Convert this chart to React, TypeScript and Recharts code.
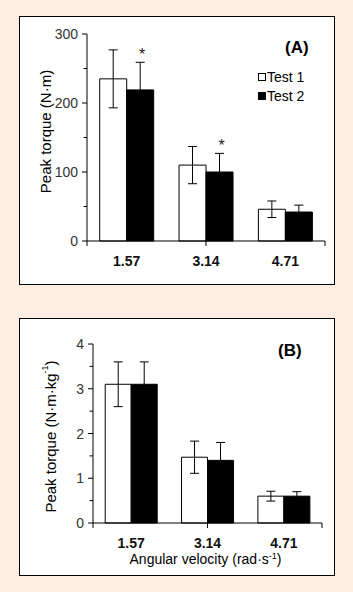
import React from 'react';
import { BarChart, Bar, XAxis, YAxis, ErrorBar, Legend, LabelList, Label } from 'recharts';

const categories = ['1.57', '3.14', '4.71'];
const torqueTest1 = [235, 110, 46];
const torqueTest1Err = [42, 27, 12];
const torqueTest2 = [219, 100, 42];
const torqueTest2Err = [40, 27, 10];
const significance = ['*', '*', ''];
const torqueTicks = [0, 50, 100, 150, 200, 250, 300];

const relTest1 = [3.1, 1.47, 0.6];
const relTest1Err = [0.5, 0.36, 0.11];
const relTest2 = [3.1, 1.4, 0.6];
const relTest2Err = [0.5, 0.4, 0.1];
const relTicks = [0, 0.5, 1, 1.5, 2, 2.5, 3, 3.5, 4];

const seriesNames = ['Test 1', 'Test 2'];
const boundaryTicks = [0, 1, 2, 3];

const FONT = '"Liberation Sans", Arial, sans-serif';
const BG = '#fdede2';

const dataA = categories.map((c, i) => ({
  cat: c,
  t1: torqueTest1[i],
  t1e: torqueTest1Err[i],
  t2: torqueTest2[i],
  t2e: torqueTest2Err[i],
  sig: significance[i],
}));

const dataB = categories.map((c, i) => ({
  cat: c,
  t1: relTest1[i],
  t1e: relTest1Err[i],
  t2: relTest2[i],
  t2e: relTest2Err[i],
}));

const makeYTick = (major: (v: number) => boolean) => (props: any) => {
  const { x, y, payload } = props;
  const v = payload.value;
  const isMajor = major(v);
  const axisX = x + 9;
  const len = isMajor ? 5 : 3.5;
  return (
    <g>
      <line x1={axisX - len} x2={axisX} y1={y} y2={y} stroke="#000" strokeWidth={1} />
      {isMajor && (
        <text x={x} y={y} dy="0.36em" textAnchor="end" fontSize={14} fontFamily={FONT} fill="#333">
          {v}
        </text>
      )}
    </g>
  );
};

const StarLabel = (data: any[]) => (props: any) => {
  const { x, y, width, height, index, value } = props;
  if (!value) return null;
  const d = data[index];
  const errPx = (d.t2e * height) / d.t2;
  return (
    <text x={x + width / 2 + 2} y={y - errPx - 2} textAnchor="middle" fontSize={16} fontFamily={FONT} fill="#222">
      {value}
    </text>
  );
};

const LegendContent = (props: any) => {
  const { payload } = props;
  return (
    <div style={{ fontFamily: FONT, fontSize: 14, color: '#000' }}>
      {(payload || []).map((p: any, i: number) => (
        <div key={i} style={{ display: 'flex', alignItems: 'center', height: 19 }}>
          <span
            style={{
              display: 'inline-block',
              width: 8,
              height: 8,
              boxSizing: 'border-box',
              border: '1px solid #000',
              background: p.color,
              marginRight: 1,
            }}
          />
          <span>{p.value}</span>
        </div>
      ))}
    </div>
  );
};

const YLabel = (text: React.ReactNode, dx: number, dyc: number) => (props: any) => {
  const { viewBox } = props;
  const cx = viewBox.x + dx;
  const cy = viewBox.y + viewBox.height / 2 + dyc;
  return (
    <text
      x={cx}
      y={cy}
      transform={`rotate(-90, ${cx}, ${cy})`}
      textAnchor="middle"
      dominantBaseline="central"
      fontSize={15}
      fontFamily={FONT}
      fill="#000"
    >
      {text}
    </text>
  );
};

const XLabel = (props: any) => {
  const { viewBox } = props;
  const cx = viewBox.x + viewBox.width / 2 - 2;
  const y = viewBox.y + 40;
  return (
    <text x={cx} y={y} textAnchor="middle" fontSize={14} fontFamily={FONT} fill="#000">
      Angular velocity (rad·s
      <tspan dy={-5} fontSize={9}>-1</tspan>
      <tspan dy={5}>)</tspan>
    </text>
  );
};

const catTick = { fontSize: 14, fontWeight: 700, fontFamily: FONT, fill: '#111' };

export default function App() {
  return (
    <div style={{ position: 'absolute', left: 0, top: 0, width: 353, height: 592, background: BG, overflow: 'hidden' }}>
      <div
        style={{
          position: 'absolute',
          left: 19,
          top: 16,
          width: 316,
          height: 269,
          boxSizing: 'border-box',
          border: '1px solid #000',
          background: '#fff',
        }}
      />
      <div
        style={{
          position: 'absolute',
          left: 19,
          top: 318,
          width: 316,
          height: 258,
          boxSizing: 'border-box',
          border: '1px solid #000',
          background: '#fff',
        }}
      />

      <div style={{ position: 'absolute', left: 0, top: 0, width: 353, height: 300 }}>
        <BarChart
          width={353}
          height={300}
          data={dataA}
          margin={{ top: 34, right: 28, bottom: 28, left: 27 }}
          barGap={0}
          barCategoryGap="16%"
        >
          <XAxis
            xAxisId={1}
            dataKey="cat"
            height={30}
            axisLine={false}
            tickLine={false}
            tickSize={6}
            tickMargin={8}
            tick={catTick}
          />
          <XAxis
            xAxisId={0}
            type="number"
            domain={[0, 3]}
            ticks={boundaryTicks}
            allowDataOverflow
            height={1}
            tickSize={5}
            tickFormatter={() => ''}
            stroke="#000"
            tickLine={{ stroke: '#000' }}
          />
          <YAxis
            width={60}
            domain={[0, 300]}
            ticks={torqueTicks}
            interval={0}
            tickSize={5}
            tickMargin={4}
            tickLine={false}
            axisLine={{ stroke: '#000' }}
            tick={makeYTick((v) => v % 100 === 0)}
          >
            <Label content={YLabel('Peak torque (N·m)', 18, -6)} />
          </YAxis>
          <Legend
            layout="horizontal"
            verticalAlign="middle"
            align="center"
            wrapperStyle={{ left: 258, top: 67, width: 80, height: 40 }}
            content={LegendContent}
          />
          <Bar xAxisId={1} dataKey="t1" name={seriesNames[0]} fill="#ffffff" stroke="#000" strokeWidth={1} isAnimationActive={false}>
            <ErrorBar dataKey="t1e" width={4.5} stroke="#000" strokeWidth={1} isAnimationActive={false} />
          </Bar>
          <Bar xAxisId={1} dataKey="t2" name={seriesNames[1]} fill="#000000" stroke="#000" strokeWidth={1} isAnimationActive={false}>
            <ErrorBar dataKey="t2e" width={4.5} stroke="#000" strokeWidth={1} isAnimationActive={false} />
            <LabelList dataKey="sig" content={StarLabel(dataA)} />
          </Bar>
        </BarChart>
      </div>

      <div style={{ position: 'absolute', left: 0, top: 300, width: 353, height: 292 }}>
        <BarChart
          width={353}
          height={292}
          data={dataB}
          margin={{ top: 44, right: 31, bottom: 38, left: 33 }}
          barGap={0}
          barCategoryGap="16%"
        >
          <XAxis
            xAxisId={1}
            dataKey="cat"
            height={30}
            axisLine={false}
            tickLine={false}
            tickSize={6}
            tickMargin={8}
            tick={catTick}
          >
            <Label content={XLabel} />
          </XAxis>
          <XAxis
            xAxisId={0}
            type="number"
            domain={[0, 3]}
            ticks={boundaryTicks}
            allowDataOverflow
            height={1}
            tickSize={5}
            tickFormatter={() => ''}
            stroke="#000"
            tickLine={{ stroke: '#000' }}
          />
          <YAxis
            width={60}
            domain={[0, 4]}
            ticks={relTicks}
            interval={0}
            tickSize={5}
            tickMargin={4}
            tickLine={false}
            axisLine={{ stroke: '#000' }}
            tick={makeYTick((v) => Number.isInteger(v))}
          >
            <Label
              content={YLabel(
                <>
                  Peak torque (N·m·kg
                  <tspan dy={-5} fontSize={9}>-1</tspan>
                  <tspan dy={5}>)</tspan>
                </>,
                17,
                3
              )}
            />
          </YAxis>
          <Bar xAxisId={1} dataKey="t1" name={seriesNames[0]} fill="#ffffff" stroke="#000" strokeWidth={1} isAnimationActive={false}>
            <ErrorBar dataKey="t1e" width={4.5} stroke="#000" strokeWidth={1} isAnimationActive={false} />
          </Bar>
          <Bar xAxisId={1} dataKey="t2" name={seriesNames[1]} fill="#000000" stroke="#000" strokeWidth={1} isAnimationActive={false}>
            <ErrorBar dataKey="t2e" width={4.5} stroke="#000" strokeWidth={1} isAnimationActive={false} />
          </Bar>
        </BarChart>
      </div>

      <div
        style={{
          position: 'absolute',
          left: 285,
          top: 38,
          fontFamily: FONT,
          fontSize: 17,
          fontWeight: 700,
          color: '#000',
          lineHeight: '20px',
        }}
      >
        (A)
      </div>
      <div
        style={{
          position: 'absolute',
          left: 278,
          top: 341,
          fontFamily: FONT,
          fontSize: 17,
          fontWeight: 700,
          color: '#000',
          lineHeight: '20px',
        }}
      >
        (B)
      </div>
    </div>
  );
}
